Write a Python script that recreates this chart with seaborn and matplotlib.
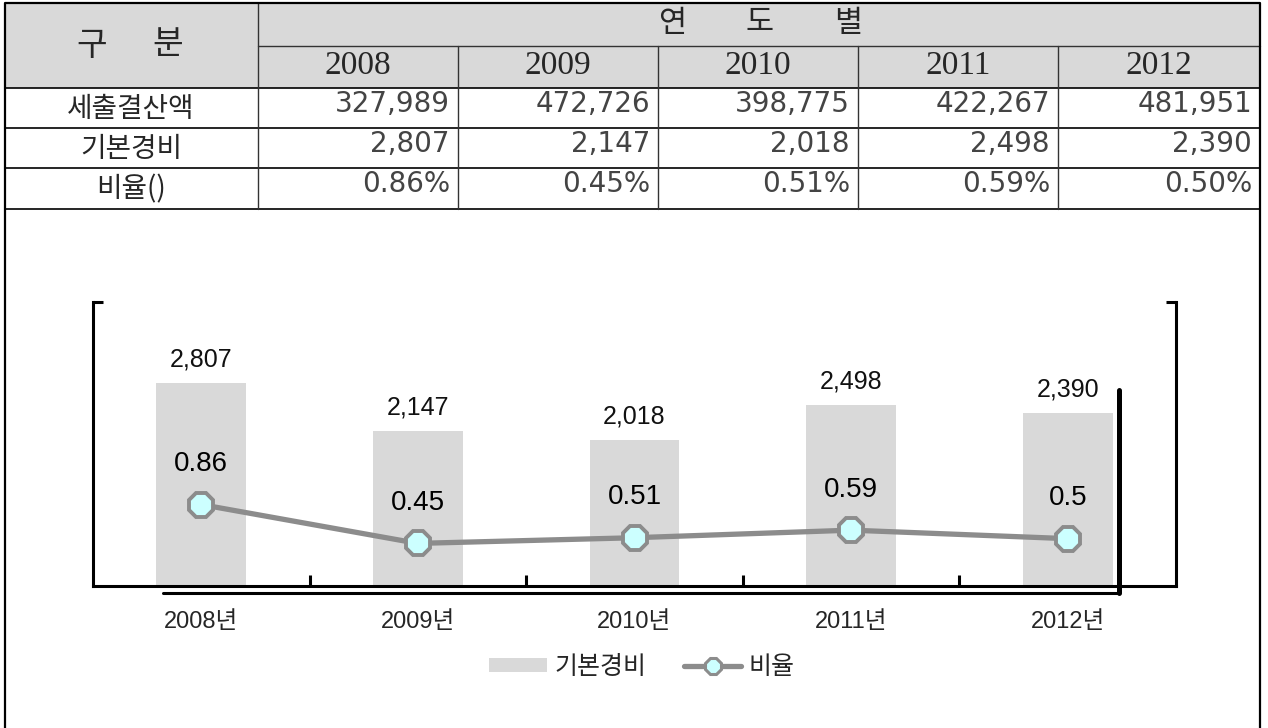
import matplotlib
matplotlib.use("Agg")
import matplotlib.pyplot as plt
import seaborn as sns
import pandas as pd
from matplotlib.patches import Rectangle, Patch
from matplotlib.lines import Line2D

# ── DATA ───────────────────────────────────────────────
years = ["2008", "2009", "2010", "2011", "2012"]
year_labels = ["2008년", "2009년", "2010년", "2011년", "2012년"]
budget = [327989, 472726, 398775, 422267, 481951]   # 세출결산액
basic_cost = [2807, 2147, 2018, 2498, 2390]          # 기본경비
ratio = [0.86, 0.45, 0.51, 0.59, 0.50]               # 비율
row_names = ["세출결산액", "기본경비", "비율()"]

sns.set_theme(style="white")
plt.rcParams["font.family"] = ["Liberation Sans", "Noto Sans CJK KR", "DejaVu Sans"]

W, H = 1268, 728
fig = plt.figure(figsize=(W / 100, H / 100), dpi=100)

# ── TABLE (pixel coords) ───────────────────────────────
tab = fig.add_axes([0, 0, 1, 1])
tab.set_xlim(0, W)
tab.set_ylim(H, 0)
tab.axis("off")

L, R, T, B = 5, 1260, 3, H
col_x = [258, 458, 658, 858, 1058, R]
head_mid, head_bot = 46, 88
row_y = [88, 128, 168, 209]
GRAY = "#d9d9d9"

tab.add_patch(Rectangle((L, T), R - L, head_bot - T, facecolor=GRAY, edgecolor="none"))
tab.plot([col_x[0], R], [head_mid, head_mid], color="#333333", lw=1.0)
for y in row_y:
    tab.plot([L, R], [y, y], color="black", lw=1.2)
tab.plot([col_x[0]] * 2, [T, row_y[-1]], color="#333333", lw=1.0)
for x in col_x[1:-1]:
    tab.plot([x, x], [head_mid, row_y[-1]], color="#333333", lw=1.0)
# outer frame: open at the bottom (cut off by the picture edge)
tab.plot([L, L, R, R], [B, T, T, B], color="black", lw=1.6)

kfont = ["Noto Sans CJK KR", "DejaVu Sans"]
tab.text(92, 45, "구", family=kfont, fontsize=24, ha="center", va="center")
tab.text(168, 45, "분", family=kfont, fontsize=24, ha="center", va="center")
for cx, ch in zip([672, 760, 848], ["연", "도", "별"]):
    tab.text(cx, 23, ch, family=kfont, fontsize=22, ha="center", va="center")

for i, yr in enumerate(years):
    cx = (col_x[i] + col_x[i + 1]) / 2
    tab.text(cx, 66, yr, family="Liberation Serif", fontsize=24, ha="center", va="center")

rows = [[f"{v:,}" for v in budget],
        [f"{v:,}" for v in basic_cost],
        [f"{v:.2f}%" for v in ratio]]
for r, (name, vals) in enumerate(zip(row_names, rows)):
    cy = (row_y[r] + row_y[r + 1]) / 2
    tab.text(131, cy + 1, name, family=kfont, fontsize=20, ha="center", va="center")
    for i, s in enumerate(vals):
        tab.text(col_x[i + 1] - 8, cy - 4, s, family="DejaVu Sans", fontsize=20,
                 ha="right", va="center", color="#444444")

# odd leftover strokes under the chart
tab.plot([163, 1119], [593, 593], color="black", lw=2.2)
tab.plot([1119, 1119], [390, 593], color="black", lw=3.6)

# ── CHART ──────────────────────────────────────────────
ax = fig.add_axes([93 / W, 1 - 586 / H, (1176 - 93) / W, (586 - 302) / H])
ax.set_facecolor("none")
df = pd.DataFrame({"year": year_labels, "cost": basic_cost, "ratio": ratio})
sns.barplot(data=df, x="year", y="cost", color=GRAY, saturation=1, width=0.415,
            linewidth=0, ax=ax)
ax.set_xlim(-0.5, 4.5)
ax.set_ylim(0, 3930)

ax2 = ax.twinx()
sns.lineplot(x=list(range(5)), y=ratio, ax=ax2, color="#8c8c8c", lw=3.8,
             marker="8", markersize=18, markerfacecolor="#ccffff",
             markeredgecolor="#8c8c8c", markeredgewidth=2.8)
ax2.set_xlim(-0.5, 4.5)
ax2.set_ylim(0, 3)

for i, v in enumerate(basic_cost):
    ax.annotate(f"{v:,}", (i, v), xytext=(0, 17), textcoords="offset points",
                ha="center", va="center", fontsize=18, color="#111111")
for i, r in enumerate(ratio):
    ax2.annotate(f"{r:g}", (i, r), xytext=(0, 29), textcoords="offset points",
                 ha="center", va="center", fontsize=20, color="black")

for a in (ax, ax2):
    a.set_xlabel("")
    a.set_ylabel("")
    a.spines["top"].set_visible(False)
ax.spines["right"].set_visible(False)
ax2.spines["left"].set_visible(False)
ax2.spines["bottom"].set_visible(False)
for s in ("left", "bottom"):
    ax.spines[s].set_color("black")
    ax.spines[s].set_linewidth(2.2)
ax2.spines["right"].set_color("black")
ax2.spines["right"].set_linewidth(2.2)

ax.set_xticks([0.5, 1.5, 2.5, 3.5])
ax.set_xticklabels([])
ax.set_xticks(range(5), minor=True)
ax.set_xticklabels(year_labels, minor=True, fontsize=17)
ax.tick_params(axis="x", which="major", direction="in", length=8, width=2.2,
               color="black", bottom=True)
ax.tick_params(axis="x", which="minor", length=0, pad=18, bottom=True)
ax.set_yticks([3930])
ax.set_yticklabels([])
ax.tick_params(axis="y", direction="in", length=7, width=2.2, color="black", left=True)
ax2.set_yticks([3])
ax2.set_yticklabels([])
ax2.tick_params(axis="y", direction="in", length=7, width=2.2, color="black", right=True)

fig.legend(handles=[Patch(facecolor=GRAY, edgecolor="none", label="기본경비"),
                    Line2D([], [], color="#8c8c8c", lw=3.8, marker="8", markersize=13,
                           markerfacecolor="#ccffff", markeredgecolor="#8c8c8c",
                           markeredgewidth=2.2, label="비율")],
           loc="center", bbox_to_anchor=(642 / W, 1 - 667 / H), ncol=2, frameon=False,
           fontsize=18, handlelength=2.3, handleheight=0.45, handletextpad=0.3,
           columnspacing=1.5)

fig.savefig("out.png", dpi=100)
